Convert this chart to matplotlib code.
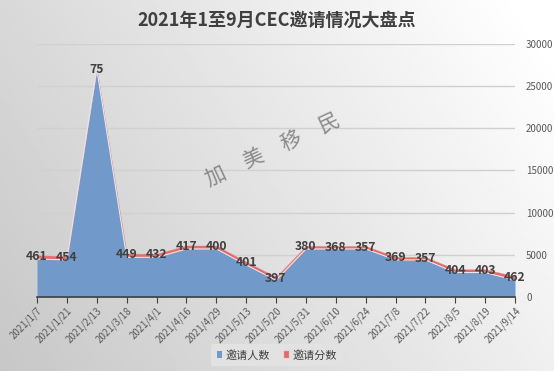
import matplotlib.pyplot as plt
import numpy as np

plt.rcParams['font.family'] = ['Noto Sans CJK SC', 'DejaVu Sans']

dates = ["2021/1/7", "2021/1/21", "2021/2/13", "2021/3/18", "2021/4/1", "2021/4/16",
         "2021/4/29", "2021/5/13", "2021/5/20", "2021/5/31", "2021/6/10", "2021/6/24",
         "2021/7/8", "2021/7/22", "2021/8/5", "2021/8/19", "2021/9/14"]
# 邀请人数 (area)
invites = [4500, 4400, 27000, 4700, 4700, 5700, 5700, 3800, 2000,
           5700, 5700, 5700, 4400, 4400, 2900, 2900, 2000]
# 邀请分数 (stacked on top of the area)
scores = [461, 454, 75, 449, 432, 417, 400, 401, 397,
          380, 368, 357, 369, 357, 404, 403, 462]

x = np.arange(len(dates))
top = np.array(invites) + np.array(scores)

fig = plt.figure(figsize=(5.54, 3.71), dpi=100)

# gray gradient background
bg = fig.add_axes([0, 0, 1, 1], zorder=-10)
gx, gy = np.meshgrid(np.linspace(0, 1, 200), np.linspace(0, 1, 200))
grad = 0.78 + 0.16 * gx + 0.07 * gy
bg.imshow(grad, cmap='gray', vmin=0, vmax=1, extent=[0, 1, 0, 1],
          aspect='auto', origin='lower')
bg.axis('off')

ax = fig.add_axes([0.0668, 0.1995, 0.8628, 0.6825])
ax.patch.set_alpha(0)

ax.fill_between(x, invites, color='#7199c9', linewidth=0, label='邀请人数', zorder=2)
ax.fill_between(x, invites, top, color='#e06c6c', linewidth=0.3,
                edgecolor='#f0a0a0', label='邀请分数', zorder=3)
ax.plot(x, invites, color='#e4ecf6', linewidth=0.7, zorder=3)

for xi, yi, s in zip(x, top, scores):
    ax.text(xi, yi - 150, str(s), ha='center', va='center', fontsize=8.8,
            fontweight='bold', color='#404040', zorder=4)

ax.set_xlim(0, len(dates) - 1)
ax.set_ylim(0, 30000)
ax.set_yticks(range(0, 30001, 5000))
ax.yaxis.tick_right()
ax.tick_params(axis='y', length=0, labelsize=7, colors='#595959', pad=8)
ax.grid(axis='y', color='#d0d0d0', linewidth=1)
ax.set_axisbelow(True)

ax.set_xticks(x)
ax.set_xticklabels(dates, rotation=45, ha='right', rotation_mode='anchor',
                   fontsize=7, color='#595959')
ax.tick_params(axis='x', length=4, color='#404040', pad=2)

for side in ['left', 'right', 'top']:
    ax.spines[side].set_visible(False)
ax.spines['bottom'].set_color('#404040')
ax.spines['bottom'].set_linewidth(1.2)

fig.text(0.5, 0.945, "2021年1至9月CEC邀请情况大盘点", ha='center', va='center',
         fontsize=13, fontweight='bold', color='#404040')

fig.text(0.493, 0.598, "加　美　移　民", ha='center', va='center', fontsize=15,
         color='#8a8a8a', rotation=25, fontweight='light')

leg = fig.legend(loc='center', bbox_to_anchor=(0.5, 0.043), ncol=2, fontsize=8,
                 frameon=True, handlelength=0.5, handleheight=0.5,
                 handletextpad=0.3, columnspacing=1.2, borderpad=0.5)
leg.get_frame().set_facecolor('#e2e2e2')
leg.get_frame().set_edgecolor('none')
leg.get_frame().set_alpha(1)
for t in leg.get_texts():
    t.set_color('#404040')

fig.savefig("out.png", dpi=100)
